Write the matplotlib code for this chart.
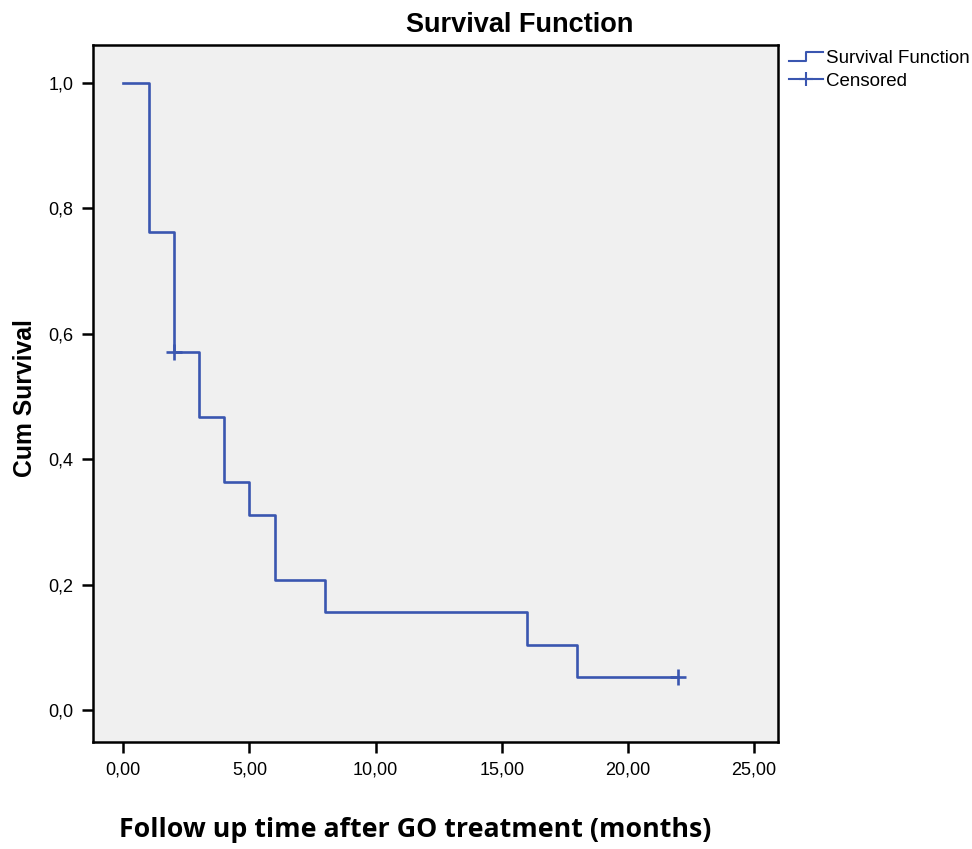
import matplotlib
matplotlib.use("Agg")
import matplotlib.pyplot as plt
from matplotlib.lines import Line2D
from matplotlib.legend_handler import HandlerBase

# Data
times = [0, 1, 2, 3, 4, 5, 6, 8, 16, 18, 22]
survival = [1.0, 0.762, 0.571, 0.467, 0.363, 0.311, 0.208, 0.156, 0.104, 0.052, 0.052]
censor_times = [2, 22]
censor_surv = [0.571, 0.052]
xticks = [0, 5, 10, 15, 20, 25]
xticklabels = ["0,00", "5,00", "10,00", "15,00", "20,00", "25,00"]
yticks = [0.0, 0.2, 0.4, 0.6, 0.8, 1.0]
yticklabels = ["0,0", "0,2", "0,4", "0,6", "0,8", "1,0"]

W, H = 972, 849
fig = plt.figure(figsize=(W / 100, H / 100), dpi=100)
fig.patch.set_facecolor("white")
ax = fig.add_axes([93 / W, 1 - 742 / H, (778 - 93) / W, (742 - 45) / H])
ax.set_facecolor("#F0F0F0")

color = "#3A56B0"
ax.step(times, survival, where="post", color=color, lw=1.9)
ax.plot(censor_times, censor_surv, linestyle="none", marker="+", ms=11, mew=1.9, color=color)

ax.set_xlim(-1.2, 25.95)
ax.set_ylim(-0.051, 1.06)
ax.set_xticks(xticks)
ax.set_xticklabels(xticklabels)
ax.set_yticks(yticks)
ax.set_yticklabels(yticklabels)
for s in ax.spines.values():
    s.set_color("black")
    s.set_linewidth(1.8)
ax.tick_params(direction="out", length=8, width=1.8, colors="black", labelsize=13, pad=6)
for lab in ax.get_xticklabels() + ax.get_yticklabels():
    lab.set_family("Liberation Sans")

fig.text(520 / W, 1 - 25 / H, "Survival Function", ha="center", va="center",
         fontsize=19.5, fontweight="bold", family="Liberation Sans")
fig.text(25 / W, 1 - 398 / H, "Cum Survival", ha="center", va="center", rotation=90,
         fontsize=17.8, fontweight="bold", family="Liberation Sans")
fig.text(415 / W, 1 - 830 / H, "Follow up time after GO treatment (months)", ha="center", va="center",
         fontsize=19.3, fontweight="bold", family="Open Sans")


class StepHandler(HandlerBase):
    def create_artists(self, legend, orig_handle, xdescent, ydescent, width, height, fontsize, trans):
        x0 = -xdescent
        y0 = -ydescent + height * 0.15
        y1 = -ydescent + height * 0.85
        xs = [x0, x0 + width * 0.5, x0 + width * 0.5, x0 + width]
        ys = [y0, y0, y1, y1]
        l = Line2D(xs, ys, color=color, lw=1.5, transform=trans)
        return [l]


class CensorHandler(HandlerBase):
    def create_artists(self, legend, orig_handle, xdescent, ydescent, width, height, fontsize, trans):
        x0 = -xdescent
        ym = -ydescent + height / 2
        l = Line2D([x0, x0 + width], [ym, ym], color=color, lw=1.5, transform=trans)
        m = Line2D([x0 + width / 2], [ym], marker="+", ms=10, mew=1.5, color=color, transform=trans)
        return [l, m]


h1 = Line2D([], [])
h2 = Line2D([], [], marker="+")
leg = fig.legend([h1, h2], ["Survival Function", "Censored"],
                 handler_map={h1: StepHandler(), h2: CensorHandler()},
                 loc="upper left", bbox_to_anchor=(789 / W, 1 - 50 / H),
                 frameon=False, prop={"family": "Liberation Sans", "size": 13.5},
                 handlelength=1.8, handletextpad=0.15, labelspacing=0.3, borderpad=0, borderaxespad=0)

fig.savefig("out.png", dpi=100, facecolor="white")
